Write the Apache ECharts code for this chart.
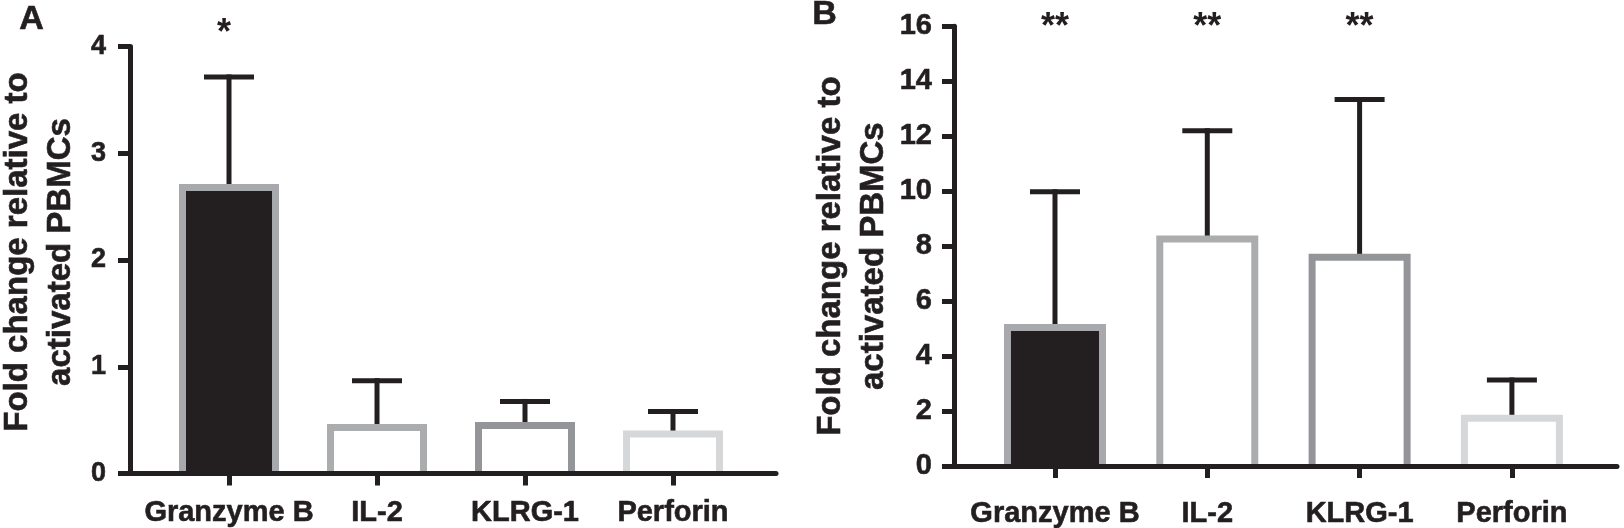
<!DOCTYPE html>
<html><head><meta charset="utf-8">
<script src="https://cdn.jsdelivr.net/npm/echarts@6/dist/echarts.min.js"></script>
<style>html,body{margin:0;padding:0;background:#fff}#c{width:1624px;height:528px}</style>
</head><body><div id="c"></div>
<script>
// ---- data ----
const categories = ['Granzyme B', 'IL-2', 'KLRG-1', 'Perforin'];
const meanA = [2.68, 0.43, 0.45, 0.37];
const errTopA = [3.715, 0.87, 0.675, 0.58];
const starsA = ['*', '', '', ''];
const meanB = [5.04, 8.26, 7.6, 1.74];
const errTopB = [9.98, 12.2, 13.34, 3.13];
const starsB = ['**', '**', '**', ''];
const yTicksA = { min: 0, max: 4, interval: 1 };
const yTicksB = { min: 0, max: 16, interval: 2 };
const yTitle = ['Fold change relative to', 'activated PBMCs'];
const panelLetters = ['A', 'B'];

// ---- styles ----
const INK = '#231f20';
const FONT = '"Liberation Sans", Arial, Helvetica, sans-serif';
const fills = ['#231f20', '#ffffff', '#ffffff', '#ffffff'];
const borders = ['#a7a9ac', '#abacae', '#939598', '#d6d7d8'];
const catIdx = categories.map((c, i) => i);
const HEAVY = { textBorderColor: INK, textBorderWidth: 0.6 };

function seriesData(means, tops) {
  return means.map((v, i) => [i, v, tops[i]]);
}
function barRender(barW) {
  return function (params, api) {
    const i = params.dataIndex;
    const x = api.value(0);
    const p0 = api.coord([x, 0]);
    const p1 = api.coord([x, api.value(1)]);
    const l = p0[0] - barW / 2, r = p0[0] + barW / 2, t = p1[1], b = p0[1];
    return { type: 'group', children: [
      { type: 'rect', shape: { x: l, y: t, width: barW, height: b - t }, style: { fill: fills[i] } },
      { type: 'polyline', shape: { points: [[l, b], [l, t], [r, t], [r, b]] },
        style: { fill: null, stroke: borders[i], lineWidth: 7, lineJoin: 'miter' } }
    ]};
  };
}
function errRender(params, api) {
  const x = api.value(0);
  const p0 = api.coord([x, api.value(1)]);
  const p1 = api.coord([x, api.value(2)]);
  return { type: 'group', children: [
    { type: 'line', shape: { x1: p0[0], y1: p0[1], x2: p1[0], y2: p1[1] - 2.5 }, style: { stroke: INK, lineWidth: 5 } },
    { type: 'line', shape: { x1: p1[0] - 25, y1: p1[1], x2: p1[0] + 25, y2: p1[1] }, style: { stroke: INK, lineWidth: 5 } }
  ]};
}
function starRender(stars, axisMax, dx, offset) {
  return function (params, api) {
    const txt = stars[params.dataIndex];
    const p = api.coord([api.value(0), axisMax]);
    return { type: 'text', x: p[0] + dx, y: p[1] - offset,
      style: { text: txt, font: 'bold 36px ' + FONT, fill: INK, align: 'center', verticalAlign: 'middle' } };
  };
}
function xAxis(gi, min, max, margin) {
  return {
    type: 'value', gridIndex: gi, min: min, max: max, z: 5,
    axisLine: { show: true, onZero: false, lineStyle: { color: INK, width: 5 } },
    axisTick: { show: true, customValues: catIdx, length: 12, lineStyle: { color: INK, width: 5 } },
    axisLabel: Object.assign({ customValues: catIdx, margin: margin, formatter: v => categories[Math.round(v)],
      color: INK, fontFamily: FONT, fontWeight: 'bold', fontSize: 29 }, HEAVY),
    splitLine: { show: false }
  };
}
function yAxis(gi, t, fs, lm, gap, pad) {
  return {
    type: 'value', gridIndex: gi, min: t.min, max: t.max, interval: t.interval, z: 5,
    axisLine: { show: true, onZero: false, lineStyle: { color: INK, width: 5 } },
    axisTick: { show: true, length: 12, lineStyle: { color: INK, width: 5 } },
    axisLabel: Object.assign({ margin: lm, color: INK, fontFamily: FONT, fontWeight: 'bold', fontSize: fs }, HEAVY),
    splitLine: { show: false },
    name: yTitle.join('\n'), nameLocation: 'middle', nameGap: gap,
    nameTextStyle: Object.assign({ color: INK, fontFamily: FONT, fontWeight: 'bold', fontSize: 33, lineHeight: 43, padding: pad }, HEAVY)
  };
}

const chart = echarts.init(document.getElementById('c'), null, { renderer: 'canvas' });
chart.setOption({
  animation: false,
  backgroundColor: '#ffffff',
  grid: [
    { left: 130, right: 848, top: 46.5, bottom: 54.5, containLabel: false, outerBoundsMode: 'none' },
    { left: 954, right: 7, top: 26.3, bottom: 62, containLabel: false, outerBoundsMode: 'none' }
  ],
  xAxis: [ xAxis(0, -0.669, 3.696, 25), xAxis(1, -0.663, 3.69, 33.5) ],
  yAxis: [ yAxis(0, yTicksA, 27, 24, 48, [0, 0, 0, 16]), yAxis(1, yTicksB, 29, 22, 56.5, [0, 20, 0, 0]) ],
  graphic: [
    { type: 'text', left: 19, top: 2, style: { text: panelLetters[0], font: 'bold 34px ' + FONT, fill: INK, stroke: INK, lineWidth: 0.6 } },
    { type: 'text', left: 812, top: -3, style: { text: panelLetters[1], font: 'bold 34px ' + FONT, fill: INK, stroke: INK, lineWidth: 0.6 } }
  ],
  series: [
    { type: 'custom', xAxisIndex: 0, yAxisIndex: 0, z: 1, renderItem: errRender, data: seriesData(meanA, errTopA) },
    { type: 'custom', xAxisIndex: 0, yAxisIndex: 0, z: 2, renderItem: barRender(93), data: seriesData(meanA, errTopA) },
    { type: 'custom', xAxisIndex: 0, yAxisIndex: 0, z: 3, renderItem: starRender(starsA, yTicksA.max, -5, 12.5),
      data: catIdx.map(i => [i, yTicksA.max]) },
    { type: 'custom', xAxisIndex: 1, yAxisIndex: 1, z: 1, renderItem: errRender, data: seriesData(meanB, errTopB) },
    { type: 'custom', xAxisIndex: 1, yAxisIndex: 1, z: 2, renderItem: barRender(95), data: seriesData(meanB, errTopB) },
    { type: 'custom', xAxisIndex: 1, yAxisIndex: 1, z: 3, renderItem: starRender(starsB, yTicksB.max, 0, -2),
      data: catIdx.map(i => [i, yTicksB.max]) }
  ]
});
</script>
</body></html>
